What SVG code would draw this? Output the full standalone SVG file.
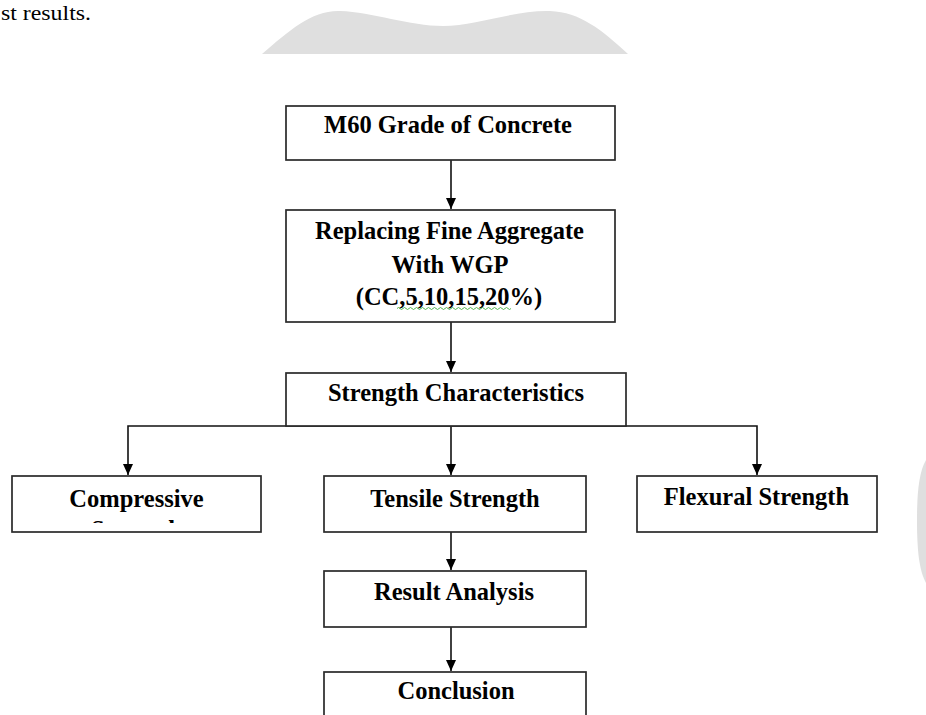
<svg xmlns="http://www.w3.org/2000/svg" width="926" height="715" viewBox="0 0 926 715">
<style>
.box{fill:#fff;stroke:#2a2a2a;stroke-width:1.7}
.t{font-family:"Liberation Serif","Times New Roman",serif;font-weight:bold;font-size:24.5px;fill:#000;text-anchor:middle}
.body{font-family:"Liberation Serif","Times New Roman",serif;font-size:22px;fill:#000}
.ln{fill:none;stroke:#111;stroke-width:1.6}
.bg{fill:#dfdfdf}
</style>
<defs>
<marker id="ah" markerUnits="userSpaceOnUse" markerWidth="11" markerHeight="10" viewBox="0 0 11 10" refX="11" refY="5" orient="auto-start-reverse">
<path d="M0,0 L11,5 L0,10 Z" fill="#000"/>
</marker>
<clipPath id="clipC"><rect x="12" y="476" width="249" height="47"/></clipPath>
</defs>
<rect width="926" height="715" fill="#fff"/>
<text class="body" x="1" y="20" textLength="90" lengthAdjust="spacingAndGlyphs">st results.</text>
<path class="bg" d="M262,54 C290,30 312,10 340,11 C372,12 410,26 443,26 C476,26 515,10 550,11 C580,12 602,30 628,54 Z"/>
<path class="bg" d="M926,460 C919,472 917,492 917,520 C917,550 919,570 926,583 Z"/>
<g id="connectors">
<line class="ln" x1="451" y1="160" x2="451" y2="209" marker-end="url(#ah)"/>
<line class="ln" x1="451" y1="322" x2="451" y2="372" marker-end="url(#ah)"/>
<polyline class="ln" points="128,475 128,426 757,426 757,475" marker-start="url(#ah)" marker-end="url(#ah)"/>
<line class="ln" x1="451" y1="426" x2="451" y2="475" marker-end="url(#ah)"/>
<line class="ln" x1="451" y1="532" x2="451" y2="570" marker-end="url(#ah)"/>
<line class="ln" x1="451" y1="627" x2="451" y2="671" marker-end="url(#ah)"/>
</g>
<g id="node-m60">
<rect class="box" x="286" y="106" width="329" height="54"/>
<text class="t" x="448" y="133">M60 Grade of Concrete</text>
</g>
<g id="node-replacing">
<rect class="box" x="286" y="210" width="329" height="112"/>
<text class="t" x="449.5" y="239">Replacing Fine Aggregate</text>
<text class="t" x="450" y="273">With WGP</text>
<text class="t" x="449" y="305">(CC,5,10,15,20%)</text>
<path d="M397,308.5 q1.5,-2 3,0 t3,0 t3,0 t3,0 t3,0 t3,0 t3,0 t3,0 t3,0 t3,0 t3,0 t3,0 t3,0 t3,0 t3,0 t3,0 t3,0 t3,0 t3,0 t3,0 t3,0 t3,0 t3,0 t3,0 t3,0 t3,0 t3,0 t3,0 t3,0 t3,0 t3,0 t3,0 t3,0 t3,0 t3,0 t3,0 t3,0 t3,0" fill="none" stroke="#3fae3f" stroke-width="0.9"/>
</g>
<g id="node-strength">
<rect class="box" x="286" y="373" width="340" height="53"/>
<text class="t" x="456" y="401">Strength Characteristics</text>
</g>
<g id="node-compressive">
<rect class="box" x="12" y="476" width="249" height="56"/>
<text class="t" x="136.5" y="507">Compressive</text>
<text class="t" x="136.5" y="538" clip-path="url(#clipC)">Strength</text>
</g>
<g id="node-tensile">
<rect class="box" x="324" y="476" width="262" height="56"/>
<text class="t" x="455" y="507">Tensile Strength</text>
</g>
<g id="node-flexural">
<rect class="box" x="637" y="476" width="240" height="56"/>
<text class="t" x="756.5" y="505">Flexural Strength</text>
</g>
<g id="node-result">
<rect class="box" x="324" y="571" width="262" height="56"/>
<text class="t" x="454" y="600">Result Analysis</text>
</g>
<g id="node-conclusion">
<rect class="box" x="324" y="672" width="262" height="60"/>
<text class="t" x="456" y="699">Conclusion</text>
</g>
</svg>
